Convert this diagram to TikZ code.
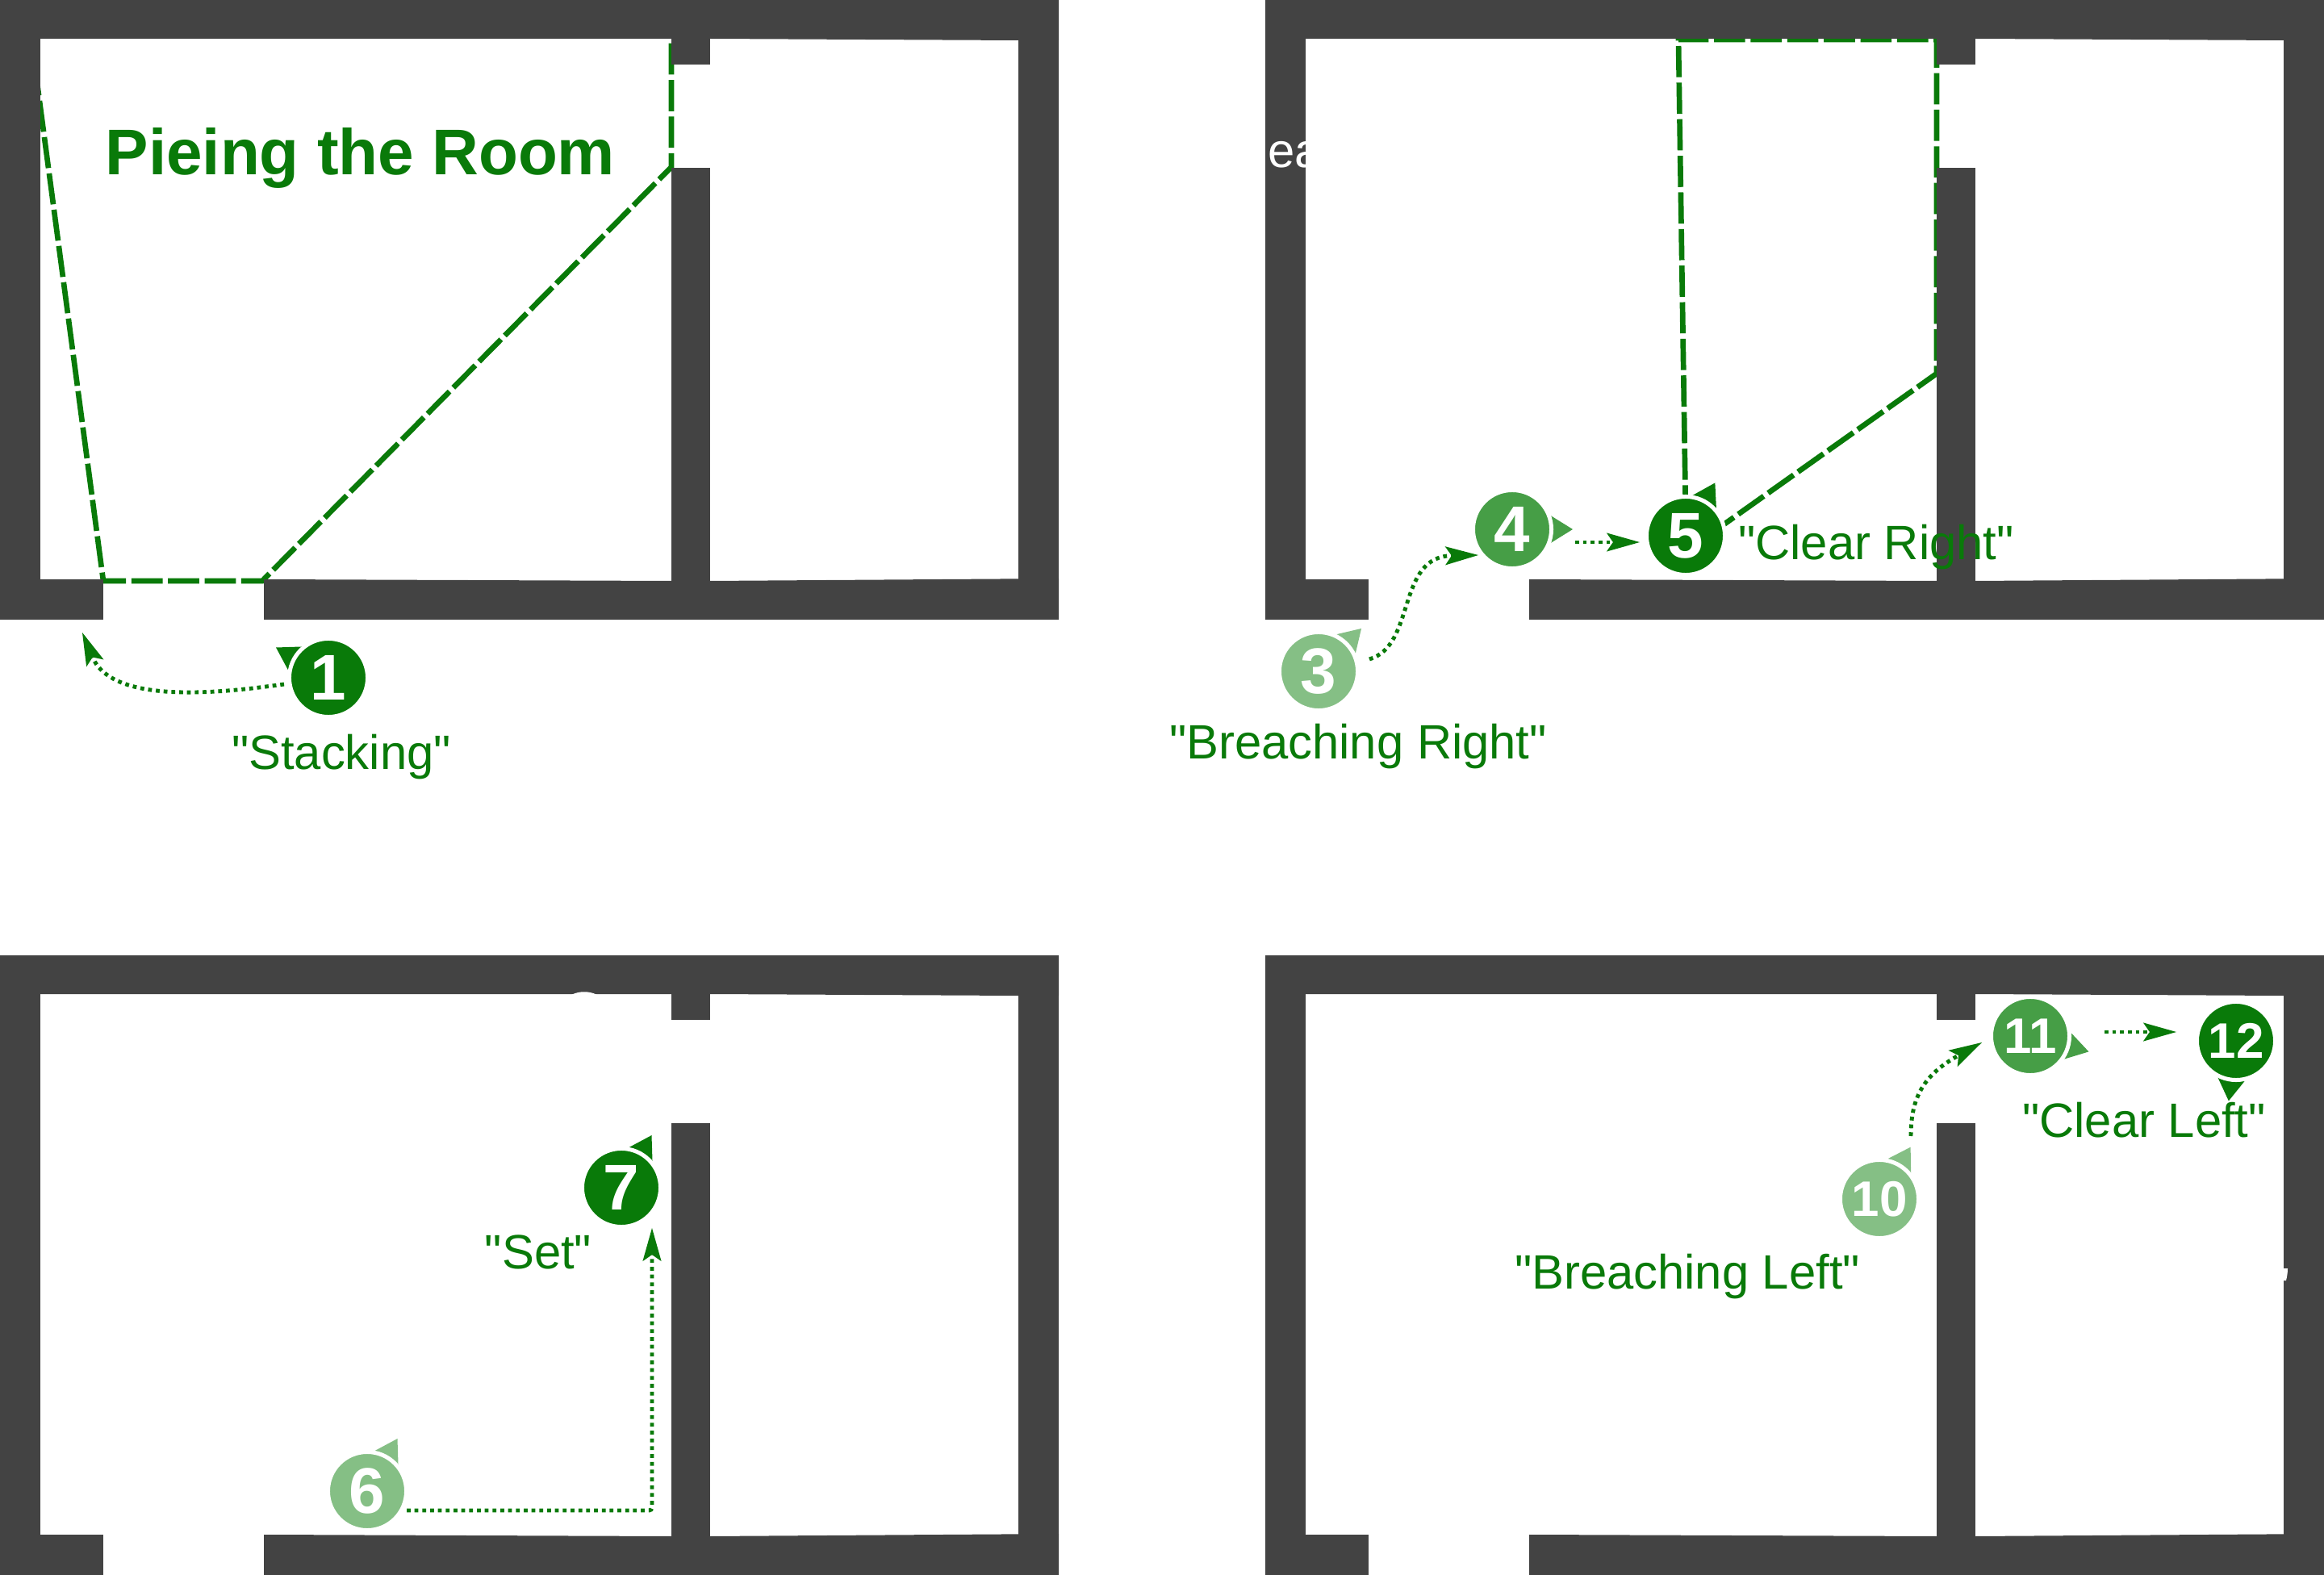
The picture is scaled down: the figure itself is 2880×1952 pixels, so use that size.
\documentclass[tikz,border=0pt]{standalone}
\usepackage{fontspec}
\setmainfont[Ligatures=TeXOff]{Liberation Sans}
\usetikzlibrary{arrows.meta}
\definecolor{wallgray}{HTML}{434343}
\definecolor{teamdark}{HTML}{097A09}
\definecolor{teammid}{HTML}{469E46}
\definecolor{teamlight}{HTML}{85BF85}
\tikzset{
  sight/.style={draw=teamdark,line width=1.9pt,dash pattern=on 11pt off 1.9pt},
  trail/.style={draw=teamdark,line width=1.4pt,dash pattern=on 1.35pt off 1.4pt,
    -{Stealth[length=11.7pt,width=6.6pt,inset=2.3pt,line width=0pt]}},
  say/.style={text=teamdark,anchor=base,inner sep=0pt,font=\fontsize{17}{20}\selectfont},
  tag/.style={circle,draw=white,line width=1.42pt,minimum size=0.97cm,inner sep=0pt,text=white}
}
\begin{document}
\begin{tikzpicture}[x=0.01cm,y=-0.01cm]
  \fill[white,use as bounding box] (0,0) rectangle (2880,1952);

  % lines of sight go under the walls
  \draw[sight] (43,80) -- (128,720) -- (325,720) -- (832,207) -- (832,44);
  \draw[sight] (2089,640) -- (2080,49) -- (2400,49) -- (2400,463) -- (2132,653);

  % the four floor plans
  \foreach \sx/\sy in {0/0,1568/0,0/1184,1568/1184}
  {
    \begin{scope}[shift={(\sx,\sy)}]
      \fill[wallgray] (0,0) -- (1312,0) -- (1312,50) -- (1262,50) -- (880,48) -- (0,48) -- cycle;
      \fill[wallgray] (0,0) rectangle (49.5,768);
      \fill[wallgray] (1262,0) rectangle (1312,768);
      \fill[wallgray] (0,718) rectangle (128,768);
      \fill[wallgray] (327,718) -- (832,720) -- (880,720) -- (1312,717) -- (1312,768) -- (327,768) -- cycle;
      \fill[wallgray] (832,0) rectangle (880,80);
      \fill[wallgray] (832,208) rectangle (880,720);
    \end{scope}
  }

  % remains of white shapes on the walls
  \fill[white] (708,1233) .. controls (718,1228) and (730,1228) .. (740,1233) -- cycle;
  \fill[white] (2830,1572) -- (2835,1572) .. controls (2835,1578) and (2834,1583) .. (2833,1587) -- (2830,1587) -- cycle;
  \node[say,text=white,anchor=base west] (scrap) at (1571,208) {ea};

  \node[say,anchor=base west,font=\fontsize{22.76}{26}\selectfont\bfseries] (title) at (130,217) {Pieing the Room};

  % markers
  \foreach \num/\x/\y/\ang/\shade/\size in
    {1/407/840/210/teamdark/22.76, 3/1634/832/-45/teamlight/22.76, 4/1874/656/0/teammid/22.76,
     5/2089/664/-61/teamdark/22.76, 6/455/1848/-60/teamlight/22.76, 7/770/1472/-60/teamdark/22.76,
     10/2329/1486/-59/teamlight/17.6, 11/2516/1284/15/teammid/17.6, 12/2771/1290/97/teamdark/17.6}
  {
    \fill[\shade,shift={(\x,\y)}] (\ang:75) -- (\ang+22:49) -- (\ang-22:49) -- cycle;
    \node[tag,fill=\shade,font=\fontsize{\size}{\size}\selectfont\bfseries] (m\num) at (\x,\y) {\raisebox{-0.6pt}{\num}};
  }

  % moves
  \draw[trail] ([shift={(-55,8)}]m1.center) .. controls (280,858) and (140,875) .. (102,784);
  \draw[trail] ([shift={(63,-15)}]m3.center) .. controls (1755,800) and (1730,690) .. ([shift={(-42,32)}]m4.center);
  \draw[trail] ([shift={(78,16)}]m4.center) -- ([shift={(-57,8)}]m5.center);
  \draw[trail,rounded corners=1pt] ([shift={(49,24)}]m6.center) -| ([shift={(38,50)}]m7.center);
  \draw[trail] ([shift={(39,-78)}]m10.center) .. controls (2368,1360) and (2384,1332) .. ([shift={(-60,8)}]m11.center);
  \draw[trail] ([shift={(92,-5)}]m11.center) -- ([shift={(-74,-11)}]m12.center);

  % what the team calls out
  \node[say] (stacking) at (423,954) {"Stacking"};
  \node[say] (breachright) at (1683,940) {"Breaching Right"};
  \node[say] (clearright) at (2325,694) {"Clear Right"};
  \node[say] (set) at (667,1572) {"Set"};
  \node[say] (breachleft) at (2091,1597) {"Breaching Left"};
  \node[say] (clearleft) at (2657,1409) {"Clear Left"};
\end{tikzpicture}
\end{document}
